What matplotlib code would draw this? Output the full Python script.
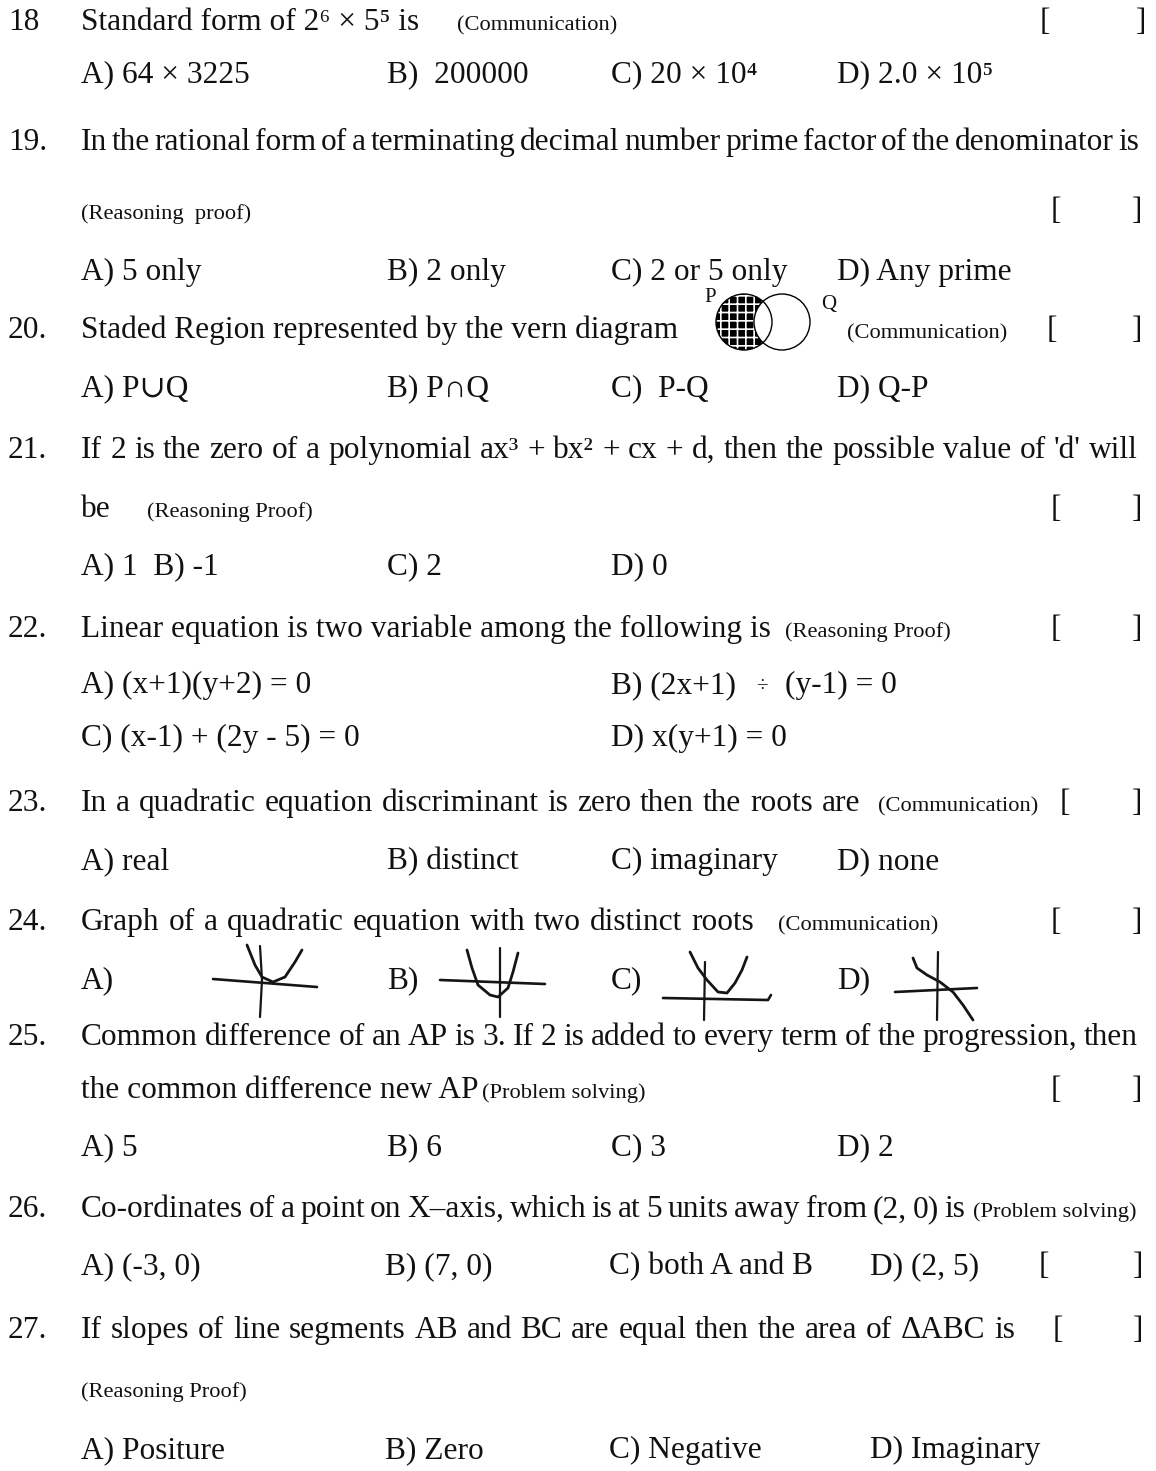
import matplotlib
matplotlib.use('Agg')
import matplotlib.pyplot as plt
from matplotlib.patches import Circle

plt.rcParams['font.family'] = ['Liberation Serif', 'DejaVu Serif']
plt.rcParams['hatch.linewidth'] = 1.2

BIG = 22.6
SMALL = 16.2

# ---- page text ----
numbers = ['18', '19.', '20.', '21.', '22.', '23.', '24.', '25.', '26.', '27.']

q18 = 'Standard form of 2⁶ × 5⁵ is'
q19 = 'In the rational form of a terminating decimal number prime factor of the denominator is'
q20 = 'Staded Region represented by the vern diagram'
q21 = "If 2 is the zero of a polynomial ax³ + bx² + cx + d, then the possible value of 'd' will"
q21b = 'be'
q22 = 'Linear equation is two variable among the following is'
q23 = 'In a quadratic equation discriminant is zero then the roots are'
q24 = 'Graph of a quadratic equation with two distinct roots'
q25 = 'Common difference of an AP is 3.  If 2 is added to every term of the progression, then'
q25b = 'the common difference new AP'
q26 = 'Co-ordinates of a point on X–axis, which is at 5 units away from (2, 0) is'
q27 = 'If slopes of line segments AB and BC are equal then the area of ΔABC is'

tag_comm = '(Communication)'
tag_reason = '(Reasoning Proof)'
tag_reason_low = '(Reasoning  proof)'
tag_problem = '(Problem solving)'

opts18 = ['A) 64 × 3225', 'B)  200000', 'C) 20 × 10⁴', 'D) 2.0 × 10⁵']
opts19 = ['A) 5 only', 'B) 2 only', 'C) 2 or 5 only', 'D) Any prime']
opts20 = ['A) P∪Q', 'B) P∩Q', 'C)  P-Q', 'D) Q-P']
opts21 = ['A) 1  B) -1', 'C) 2', 'D) 0']
opts22 = ['A) (x+1)(y+2) = 0', 'B) (2x+1)', '÷', '(y-1) = 0',
          'C) (x-1) + (2y - 5) = 0', 'D) x(y+1) = 0']
opts23 = ['A) real', 'B) distinct', 'C) imaginary', 'D) none']
opts24 = ['A)', 'B)', 'C)', 'D)']
opts25 = ['A) 5', 'B) 6', 'C) 3', 'D) 2']
opts26 = ['A) (-3, 0)', 'B) (7, 0)', 'C) both A and B', 'D) (2, 5)']
opts27 = ['A) Positure', 'B) Zero', 'C) Negative', 'D) Imaginary']

# hand drawn sketches for Q24, local units around the axis crossing
sketch_xaxis_x = [[-48, 56], [-60, 45], [-42, 63, 66], [-43, 39]]
sketch_xaxis_y = [[-1, 7], [-2, 2], [0, 2, -3], [2, -2]]
sketch_yaxis_x = [[-1, 1, -1], [0, 0], [0, -1], [0, -1]]
sketch_yaxis_y = [[-34, 0, 37], [-34, 35], [-36, 22], [-38, 30]]
sketch_curve_x = [[-14, -6, 1, 12, 24, 34, 41],
                  [-33, -28, -22, -10, -2, 8, 13, 18],
                  [-15, -7, 2, 13, 22, 30, 37, 42],
                  [-25, -21, -11, 2, 15, 25, 35]]
sketch_curve_y = [[-35, -15, -3, 2, -3, -18, -30],
                  [-32, -14, 3, 13, 15, 6, -10, -29],
                  [-46, -30, -18, -6, -5, -15, -28, -41],
                  [-32, -22, -15, -8, 2, 15, 30]]

# ---- layout ----
fig = plt.figure(figsize=(11.56, 14.71), dpi=100)
ax = fig.add_axes([0, 0, 1, 1])
ax.set_xlim(0, 1156)
ax.set_ylim(1471, 0)
ax.axis('off')
renderer = fig.canvas.get_renderer()

X0 = 81
XA, XB, XC, XD = 81, 387, 611, 837
XR = 1138


def put(x, y, s, size=BIG):
    return ax.text(x, y, s, fontsize=size, ha='left', va='baseline', color='#111111')


def brackets(y, xl=1051, xr=1132):
    put(xl, y, '[')
    put(xr, y, ']')


def justify(y, text, x0=X0, x1=XR, size=BIG):
    # spread the words of one line so it runs from x0 to x1
    words = text.split()
    items = [put(0, y, w, size) for w in words]
    widths = [t.get_window_extent(renderer).width for t in items]
    gap = (x1 - x0 - sum(widths)) / (len(words) - 1)
    x = x0
    for t, w in zip(items, widths):
        t.set_x(x)
        x += w + gap


def options(y, texts, xs):
    for s, x in zip(texts, xs):
        put(x, y, s)


number_y = [30, 150, 338, 458, 637, 811, 930, 1045, 1217, 1338]
for n, y in zip(numbers, number_y):
    put(8, y, n)

# 18
put(X0, 30, q18)
put(457, 30, tag_comm, SMALL)
brackets(30, 1040, 1136)
options(82, opts18, [XA, XB, XC, XD])

# 19
justify(150, q19, x1=1139)
put(X0, 219, tag_reason_low, SMALL)
brackets(219)
options(280, opts19, [XA, XB, XC, XD])

# 20
put(X0, 338, q20)
put(704, 302, 'P', 15)
put(821, 309, 'Q', 15)
put(847, 338, tag_comm, SMALL)
brackets(338, 1047, 1132)
cx_p, cx_q, cy, r = 744, 782, 322, 28
ax.add_patch(Circle((cx_p, cy), r, facecolor='black', edgecolor='white',
                    hatch='++', linewidth=0))
ax.add_patch(Circle((cx_q, cy), r, facecolor='white', edgecolor='black', linewidth=1.0))
ax.add_patch(Circle((cx_p, cy), r, facecolor='none', edgecolor='black', linewidth=1.0))
options(396, opts20, [XA, XB, XC, XD])

# 21
justify(458, q21)
put(X0, 517, q21b)
put(147, 517, tag_reason, SMALL)
brackets(517)
options(574, opts21, [XA, XB, XC])

# 22
put(X0, 637, q22)
put(785, 637, tag_reason, SMALL)
brackets(637)
put(XA, 693, opts22[0])
put(XC, 693, opts22[1])
put(756, 691, opts22[2], 15)
put(785, 693, opts22[3])
put(XA, 746, opts22[4])
put(XC, 746, opts22[5])

# 23
justify(811, q23, x1=860)
put(878, 811, tag_comm, SMALL)
brackets(811, 1060, 1132)
options(869, opts23, [XA, XB, XC, XD])

# 24
justify(930, q24, x1=754)
put(778, 930, tag_comm, SMALL)
brackets(930)
options(988, opts24, [XA, XB, XC, XD])
origins = [(261, 980), (500, 982), (705, 998), (938, 990)]
for i, (ox, oy) in enumerate(origins):
    ax.plot([ox + v for v in sketch_xaxis_x[i]], [oy + v for v in sketch_xaxis_y[i]],
            color='#151515', lw=1.9, solid_capstyle='round')
    ax.plot([ox + v for v in sketch_yaxis_x[i]], [oy + v for v in sketch_yaxis_y[i]],
            color='#151515', lw=1.6, solid_capstyle='round')
    ax.plot([ox + v for v in sketch_curve_x[i]], [oy + v for v in sketch_curve_y[i]],
            color='#151515', lw=2.0, solid_capstyle='round', solid_joinstyle='round')

# 25
justify(1045, q25)
put(X0, 1098, q25b)
put(482, 1098, tag_problem, SMALL)
brackets(1098)
options(1155, opts25, [XA, XB, XC, XD])

# 26
justify(1217, q26, x1=965)
put(973, 1217, tag_problem, SMALL)
options(1274, opts26, [XA, 385, 609, 870])
brackets(1274, 1039, 1133)

# 27
justify(1338, q27, x1=1015)
brackets(1338, 1053, 1133)
put(X0, 1397, tag_reason, SMALL)
options(1458, opts27, [XA, 385, 609, 870])

plt.savefig('out.png', dpi=100, facecolor='white')
